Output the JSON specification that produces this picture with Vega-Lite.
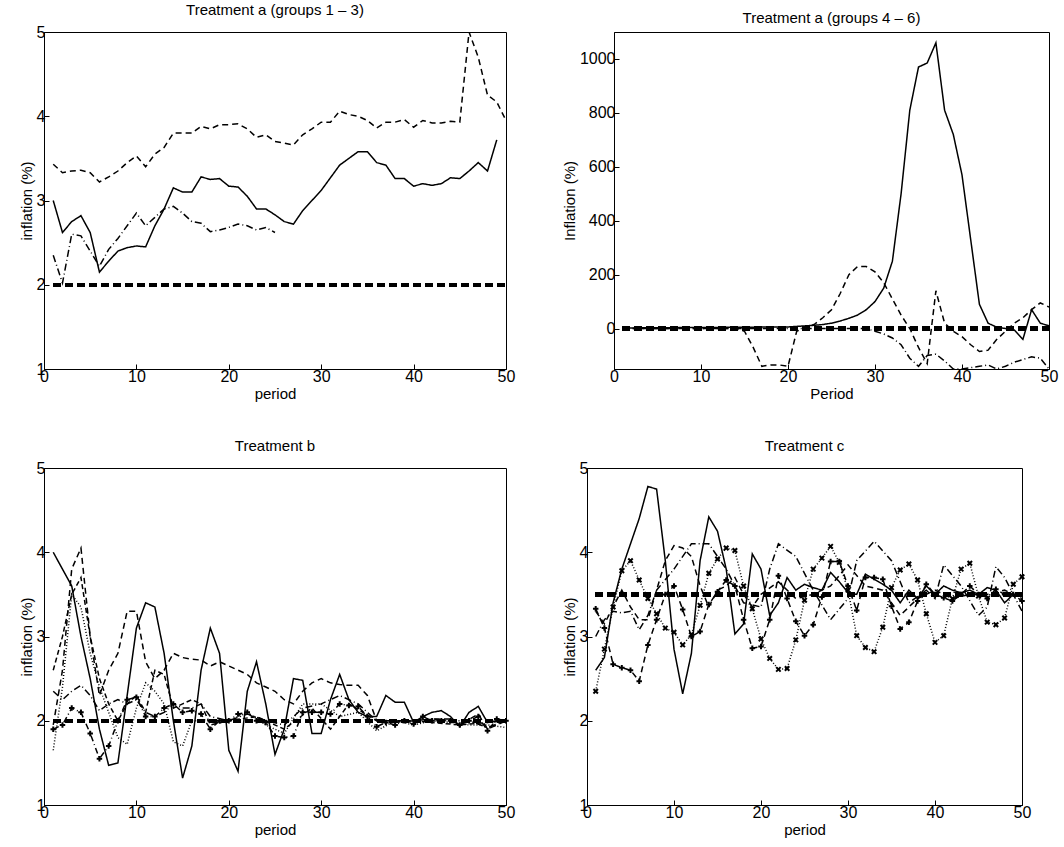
{
  "$schema": "https://vega.github.io/schema/vega-lite/v6.json",
  "config": {
    "font": "Liberation Sans",
    "view": {"stroke": "black", "strokeWidth": 1},
    "axis": {"grid": false, "domainColor": "black", "tickColor": "black", "tickSize": -5, "labelFontSize": 16, "labelColor": "black", "titleFontSize": 15, "titleFontWeight": "normal", "titleColor": "black", "labelPadding": 4, "titlePadding": 2, "format": "d", "labelFlush": false, "labelOverlap": false},
    "title": {"fontSize": 15, "fontWeight": "normal", "offset": 6}
  },
  "spacing": 36,
  "padding": {"left": 18, "top": 2, "right": 10, "bottom": 2},
  "datasets": {
    "a1": [
      {"x":1,"s":"solid","y":3.0},{"x":2,"s":"solid","y":2.62},{"x":3,"s":"solid","y":2.75},{"x":4,"s":"solid","y":2.82},{"x":5,"s":"solid","y":2.62},{"x":6,"s":"solid","y":2.15},{"x":7,"s":"solid","y":2.28},{"x":8,"s":"solid","y":2.4},{"x":9,"s":"solid","y":2.44},{"x":10,"s":"solid","y":2.46},{"x":11,"s":"solid","y":2.45},{"x":12,"s":"solid","y":2.7},{"x":13,"s":"solid","y":2.9},{"x":14,"s":"solid","y":3.15},{"x":15,"s":"solid","y":3.1},{"x":16,"s":"solid","y":3.1},{"x":17,"s":"solid","y":3.28},{"x":18,"s":"solid","y":3.25},{"x":19,"s":"solid","y":3.26},{"x":20,"s":"solid","y":3.17},{"x":21,"s":"solid","y":3.16},{"x":22,"s":"solid","y":3.05},{"x":23,"s":"solid","y":2.9},{"x":24,"s":"solid","y":2.9},{"x":25,"s":"solid","y":2.83},{"x":26,"s":"solid","y":2.75},{"x":27,"s":"solid","y":2.72},{"x":28,"s":"solid","y":2.88},{"x":29,"s":"solid","y":3.0},{"x":30,"s":"solid","y":3.12},{"x":31,"s":"solid","y":3.27},{"x":32,"s":"solid","y":3.42},{"x":33,"s":"solid","y":3.5},{"x":34,"s":"solid","y":3.58},{"x":35,"s":"solid","y":3.58},{"x":36,"s":"solid","y":3.45},{"x":37,"s":"solid","y":3.42},{"x":38,"s":"solid","y":3.26},{"x":39,"s":"solid","y":3.26},{"x":40,"s":"solid","y":3.17},{"x":41,"s":"solid","y":3.2},{"x":42,"s":"solid","y":3.18},{"x":43,"s":"solid","y":3.2},{"x":44,"s":"solid","y":3.27},{"x":45,"s":"solid","y":3.26},{"x":46,"s":"solid","y":3.35},{"x":47,"s":"solid","y":3.45},{"x":48,"s":"solid","y":3.35},{"x":49,"s":"solid","y":3.72},
      {"x":1,"s":"dash","y":3.43},{"x":2,"s":"dash","y":3.33},{"x":3,"s":"dash","y":3.35},{"x":4,"s":"dash","y":3.36},{"x":5,"s":"dash","y":3.33},{"x":6,"s":"dash","y":3.22},{"x":7,"s":"dash","y":3.28},{"x":8,"s":"dash","y":3.35},{"x":9,"s":"dash","y":3.45},{"x":10,"s":"dash","y":3.53},{"x":11,"s":"dash","y":3.4},{"x":12,"s":"dash","y":3.55},{"x":13,"s":"dash","y":3.63},{"x":14,"s":"dash","y":3.8},{"x":15,"s":"dash","y":3.8},{"x":16,"s":"dash","y":3.8},{"x":17,"s":"dash","y":3.88},{"x":18,"s":"dash","y":3.85},{"x":19,"s":"dash","y":3.9},{"x":20,"s":"dash","y":3.9},{"x":21,"s":"dash","y":3.91},{"x":22,"s":"dash","y":3.85},{"x":23,"s":"dash","y":3.75},{"x":24,"s":"dash","y":3.78},{"x":25,"s":"dash","y":3.7},{"x":26,"s":"dash","y":3.68},{"x":27,"s":"dash","y":3.66},{"x":28,"s":"dash","y":3.78},{"x":29,"s":"dash","y":3.85},{"x":30,"s":"dash","y":3.93},{"x":31,"s":"dash","y":3.93},{"x":32,"s":"dash","y":4.06},{"x":33,"s":"dash","y":4.02},{"x":34,"s":"dash","y":4.0},{"x":35,"s":"dash","y":3.95},{"x":36,"s":"dash","y":3.86},{"x":37,"s":"dash","y":3.93},{"x":38,"s":"dash","y":3.93},{"x":39,"s":"dash","y":3.96},{"x":40,"s":"dash","y":3.87},{"x":41,"s":"dash","y":3.95},{"x":42,"s":"dash","y":3.92},{"x":43,"s":"dash","y":3.92},{"x":44,"s":"dash","y":3.94},{"x":45,"s":"dash","y":3.93},{"x":46,"s":"dash","y":5.0},{"x":47,"s":"dash","y":4.7},{"x":48,"s":"dash","y":4.25},{"x":49,"s":"dash","y":4.17},{"x":50,"s":"dash","y":3.95},
      {"x":1,"s":"dashdot","y":2.35},{"x":2,"s":"dashdot","y":2.02},{"x":3,"s":"dashdot","y":2.6},{"x":4,"s":"dashdot","y":2.58},{"x":5,"s":"dashdot","y":2.4},{"x":6,"s":"dashdot","y":2.22},{"x":7,"s":"dashdot","y":2.42},{"x":8,"s":"dashdot","y":2.55},{"x":9,"s":"dashdot","y":2.7},{"x":10,"s":"dashdot","y":2.85},{"x":11,"s":"dashdot","y":2.7},{"x":12,"s":"dashdot","y":2.8},{"x":13,"s":"dashdot","y":2.9},{"x":14,"s":"dashdot","y":2.93},{"x":15,"s":"dashdot","y":2.85},{"x":16,"s":"dashdot","y":2.75},{"x":17,"s":"dashdot","y":2.73},{"x":18,"s":"dashdot","y":2.63},{"x":19,"s":"dashdot","y":2.65},{"x":20,"s":"dashdot","y":2.68},{"x":21,"s":"dashdot","y":2.72},{"x":22,"s":"dashdot","y":2.7},{"x":23,"s":"dashdot","y":2.65},{"x":24,"s":"dashdot","y":2.68},{"x":25,"s":"dashdot","y":2.62}
    ],
    "a2": [
      {"x":1,"s":"solid","y":2},{"x":5,"s":"solid","y":3},{"x":10,"s":"solid","y":4},{"x":15,"s":"solid","y":5},{"x":20,"s":"solid","y":6},{"x":21,"s":"solid","y":8},{"x":22,"s":"solid","y":10},{"x":23,"s":"solid","y":12},{"x":24,"s":"solid","y":15},{"x":25,"s":"solid","y":20},{"x":26,"s":"solid","y":28},{"x":27,"s":"solid","y":38},{"x":28,"s":"solid","y":50},{"x":29,"s":"solid","y":70},{"x":30,"s":"solid","y":100},{"x":31,"s":"solid","y":150},{"x":32,"s":"solid","y":250},{"x":33,"s":"solid","y":500},{"x":34,"s":"solid","y":810},{"x":35,"s":"solid","y":970},{"x":36,"s":"solid","y":985},{"x":37,"s":"solid","y":1060},{"x":38,"s":"solid","y":810},{"x":39,"s":"solid","y":720},{"x":40,"s":"solid","y":570},{"x":41,"s":"solid","y":330},{"x":42,"s":"solid","y":90},{"x":43,"s":"solid","y":20},{"x":44,"s":"solid","y":5},{"x":45,"s":"solid","y":0},{"x":46,"s":"solid","y":-5},{"x":47,"s":"solid","y":-40},{"x":48,"s":"solid","y":70},{"x":49,"s":"solid","y":20},{"x":50,"s":"solid","y":10},
      {"x":1,"s":"dash","y":0},{"x":14,"s":"dash","y":0},{"x":15,"s":"dash","y":-10},{"x":16,"s":"dash","y":-70},{"x":17,"s":"dash","y":-140},{"x":18,"s":"dash","y":-135},{"x":19,"s":"dash","y":-135},{"x":20,"s":"dash","y":-140},{"x":21,"s":"dash","y":-10},{"x":22,"s":"dash","y":5},{"x":23,"s":"dash","y":15},{"x":24,"s":"dash","y":40},{"x":25,"s":"dash","y":70},{"x":26,"s":"dash","y":130},{"x":27,"s":"dash","y":200},{"x":28,"s":"dash","y":230},{"x":29,"s":"dash","y":230},{"x":30,"s":"dash","y":210},{"x":31,"s":"dash","y":170},{"x":32,"s":"dash","y":110},{"x":33,"s":"dash","y":50},{"x":34,"s":"dash","y":0},{"x":35,"s":"dash","y":-70},{"x":36,"s":"dash","y":-130},{"x":37,"s":"dash","y":140},{"x":38,"s":"dash","y":20},{"x":39,"s":"dash","y":-10},{"x":40,"s":"dash","y":-30},{"x":41,"s":"dash","y":-60},{"x":42,"s":"dash","y":-85},{"x":43,"s":"dash","y":-80},{"x":44,"s":"dash","y":-40},{"x":45,"s":"dash","y":-10},{"x":46,"s":"dash","y":20},{"x":47,"s":"dash","y":40},{"x":48,"s":"dash","y":70},{"x":49,"s":"dash","y":95},{"x":50,"s":"dash","y":80},
      {"x":1,"s":"dashdot","y":0},{"x":29,"s":"dashdot","y":0},{"x":30,"s":"dashdot","y":-10},{"x":31,"s":"dashdot","y":-20},{"x":32,"s":"dashdot","y":-35},{"x":33,"s":"dashdot","y":-60},{"x":34,"s":"dashdot","y":-110},{"x":35,"s":"dashdot","y":-140},{"x":36,"s":"dashdot","y":-100},{"x":37,"s":"dashdot","y":-95},{"x":38,"s":"dashdot","y":-120},{"x":39,"s":"dashdot","y":-150},{"x":40,"s":"dashdot","y":-150},{"x":41,"s":"dashdot","y":-145},{"x":42,"s":"dashdot","y":-140},{"x":43,"s":"dashdot","y":-135},{"x":44,"s":"dashdot","y":-150},{"x":45,"s":"dashdot","y":-140},{"x":46,"s":"dashdot","y":-125},{"x":47,"s":"dashdot","y":-115},{"x":48,"s":"dashdot","y":-105},{"x":49,"s":"dashdot","y":-110},{"x":50,"s":"dashdot","y":-150}
    ],
    "b": [
      {"x":1,"s":"solid","y":4.0},{"x":2,"s":"solid","y":3.8},{"x":3,"s":"solid","y":3.6},{"x":4,"s":"solid","y":3.0},{"x":5,"s":"solid","y":2.5},{"x":6,"s":"solid","y":1.9},{"x":7,"s":"solid","y":1.47},{"x":8,"s":"solid","y":1.5},{"x":9,"s":"solid","y":2.3},{"x":10,"s":"solid","y":3.1},{"x":11,"s":"solid","y":3.4},{"x":12,"s":"solid","y":3.35},{"x":13,"s":"solid","y":2.8},{"x":14,"s":"solid","y":2.0},{"x":15,"s":"solid","y":1.32},{"x":16,"s":"solid","y":1.7},{"x":17,"s":"solid","y":2.6},{"x":18,"s":"solid","y":3.1},{"x":19,"s":"solid","y":2.8},{"x":20,"s":"solid","y":1.65},{"x":21,"s":"solid","y":1.4},{"x":22,"s":"solid","y":2.35},{"x":23,"s":"solid","y":2.7},{"x":24,"s":"solid","y":2.2},{"x":25,"s":"solid","y":1.6},{"x":26,"s":"solid","y":1.9},{"x":27,"s":"solid","y":2.5},{"x":28,"s":"solid","y":2.48},{"x":29,"s":"solid","y":1.85},{"x":30,"s":"solid","y":1.85},{"x":31,"s":"solid","y":2.25},{"x":32,"s":"solid","y":2.55},{"x":33,"s":"solid","y":2.25},{"x":34,"s":"solid","y":2.1},{"x":35,"s":"solid","y":2.05},{"x":36,"s":"solid","y":2.05},{"x":37,"s":"solid","y":2.3},{"x":38,"s":"solid","y":2.22},{"x":39,"s":"solid","y":2.22},{"x":40,"s":"solid","y":1.98},{"x":41,"s":"solid","y":2.05},{"x":42,"s":"solid","y":2.1},{"x":43,"s":"solid","y":2.12},{"x":44,"s":"solid","y":2.05},{"x":45,"s":"solid","y":1.93},{"x":46,"s":"solid","y":2.1},{"x":47,"s":"solid","y":2.17},{"x":48,"s":"solid","y":1.98},{"x":49,"s":"solid","y":2.0},{"x":50,"s":"solid","y":1.98},
      {"x":1,"s":"dash","y":1.95},{"x":2,"s":"dash","y":2.6},{"x":3,"s":"dash","y":3.8},{"x":4,"s":"dash","y":4.05},{"x":5,"s":"dash","y":3.0},{"x":6,"s":"dash","y":2.3},{"x":7,"s":"dash","y":2.6},{"x":8,"s":"dash","y":2.8},{"x":9,"s":"dash","y":3.3},{"x":10,"s":"dash","y":3.3},{"x":11,"s":"dash","y":2.7},{"x":12,"s":"dash","y":2.5},{"x":13,"s":"dash","y":2.6},{"x":14,"s":"dash","y":2.8},{"x":15,"s":"dash","y":2.75},{"x":16,"s":"dash","y":2.73},{"x":17,"s":"dash","y":2.72},{"x":18,"s":"dash","y":2.65},{"x":19,"s":"dash","y":2.7},{"x":20,"s":"dash","y":2.65},{"x":21,"s":"dash","y":2.6},{"x":22,"s":"dash","y":2.55},{"x":23,"s":"dash","y":2.45},{"x":24,"s":"dash","y":2.4},{"x":25,"s":"dash","y":2.35},{"x":26,"s":"dash","y":2.25},{"x":27,"s":"dash","y":2.2},{"x":28,"s":"dash","y":2.35},{"x":29,"s":"dash","y":2.45},{"x":30,"s":"dash","y":2.5},{"x":31,"s":"dash","y":2.45},{"x":32,"s":"dash","y":2.43},{"x":33,"s":"dash","y":2.42},{"x":34,"s":"dash","y":2.42},{"x":35,"s":"dash","y":2.3},{"x":36,"s":"dash","y":2.0},{"x":38,"s":"dash","y":2.0},{"x":40,"s":"dash","y":1.98},{"x":42,"s":"dash","y":2.02},{"x":44,"s":"dash","y":2.02},{"x":45,"s":"dash","y":1.95},{"x":47,"s":"dash","y":2.08},{"x":48,"s":"dash","y":1.9},{"x":50,"s":"dash","y":2.0},
      {"x":1,"s":"dash2","y":2.6},{"x":2,"s":"dash2","y":3.0},{"x":3,"s":"dash2","y":3.5},{"x":4,"s":"dash2","y":3.7},{"x":5,"s":"dash2","y":3.0},{"x":6,"s":"dash2","y":2.5},{"x":7,"s":"dash2","y":2.2},{"x":8,"s":"dash2","y":2.0},{"x":9,"s":"dash2","y":2.2},{"x":10,"s":"dash2","y":2.3},{"x":11,"s":"dash2","y":2.1},{"x":12,"s":"dash2","y":2.6},{"x":13,"s":"dash2","y":2.55},{"x":14,"s":"dash2","y":2.15},{"x":15,"s":"dash2","y":2.2},{"x":16,"s":"dash2","y":2.25},{"x":17,"s":"dash2","y":2.2},{"x":18,"s":"dash2","y":1.95},{"x":20,"s":"dash2","y":2.0},{"x":23,"s":"dash2","y":2.05},{"x":26,"s":"dash2","y":1.9},{"x":29,"s":"dash2","y":2.15},{"x":31,"s":"dash2","y":1.9},{"x":33,"s":"dash2","y":2.2},{"x":36,"s":"dash2","y":2.0},{"x":40,"s":"dash2","y":2.0},{"x":45,"s":"dash2","y":1.95},{"x":50,"s":"dash2","y":2.0},
      {"x":1,"s":"dashdot","y":2.35},{"x":2,"s":"dashdot","y":2.25},{"x":3,"s":"dashdot","y":2.35},{"x":4,"s":"dashdot","y":2.42},{"x":5,"s":"dashdot","y":2.3},{"x":6,"s":"dashdot","y":2.12},{"x":7,"s":"dashdot","y":2.2},{"x":8,"s":"dashdot","y":2.25},{"x":9,"s":"dashdot","y":2.2},{"x":10,"s":"dashdot","y":2.25},{"x":11,"s":"dashdot","y":2.1},{"x":12,"s":"dashdot","y":2.05},{"x":13,"s":"dashdot","y":2.1},{"x":14,"s":"dashdot","y":2.2},{"x":15,"s":"dashdot","y":2.15},{"x":16,"s":"dashdot","y":2.15},{"x":17,"s":"dashdot","y":2.2},{"x":18,"s":"dashdot","y":2.05},{"x":20,"s":"dashdot","y":2.0},{"x":22,"s":"dashdot","y":2.08},{"x":24,"s":"dashdot","y":2.0},{"x":26,"s":"dashdot","y":1.95},{"x":28,"s":"dashdot","y":2.15},{"x":30,"s":"dashdot","y":2.2},{"x":32,"s":"dashdot","y":2.3},{"x":34,"s":"dashdot","y":2.2},{"x":36,"s":"dashdot","y":2.0},{"x":38,"s":"dashdot","y":1.98},{"x":40,"s":"dashdot","y":2.0},{"x":42,"s":"dashdot","y":2.02},{"x":44,"s":"dashdot","y":2.0},{"x":46,"s":"dashdot","y":2.0},{"x":48,"s":"dashdot","y":1.92},{"x":50,"s":"dashdot","y":2.0},
      {"x":1,"s":"dot","y":1.65},{"x":2,"s":"dot","y":2.4},{"x":3,"s":"dot","y":3.5},{"x":4,"s":"dot","y":3.35},{"x":5,"s":"dot","y":2.8},{"x":6,"s":"dot","y":2.4},{"x":7,"s":"dot","y":2.1},{"x":8,"s":"dot","y":1.8},{"x":9,"s":"dot","y":1.72},{"x":10,"s":"dot","y":2.15},{"x":11,"s":"dot","y":2.45},{"x":12,"s":"dot","y":2.35},{"x":13,"s":"dot","y":2.2},{"x":14,"s":"dot","y":1.75},{"x":15,"s":"dot","y":1.7},{"x":16,"s":"dot","y":2.0},{"x":18,"s":"dot","y":2.0},{"x":20,"s":"dot","y":2.0},{"x":22,"s":"dot","y":2.1},{"x":24,"s":"dot","y":1.95},{"x":26,"s":"dot","y":1.85},{"x":28,"s":"dot","y":2.2},{"x":30,"s":"dot","y":2.2},{"x":32,"s":"dot","y":2.05},{"x":34,"s":"dot","y":2.1},{"x":36,"s":"dot","y":1.88},{"x":38,"s":"dot","y":2.0},{"x":40,"s":"dot","y":1.95},{"x":42,"s":"dot","y":2.0},{"x":44,"s":"dot","y":1.98},{"x":46,"s":"dot","y":1.95},{"x":48,"s":"dot","y":1.95},{"x":50,"s":"dot","y":1.92},
      {"x":1,"s":"plus","y":1.9},{"x":2,"s":"plus","y":1.95},{"x":3,"s":"plus","y":2.15},{"x":4,"s":"plus","y":2.1},{"x":5,"s":"plus","y":1.85},{"x":6,"s":"plus","y":1.55},{"x":7,"s":"plus","y":1.7},{"x":8,"s":"plus","y":2.0},{"x":9,"s":"plus","y":2.25},{"x":10,"s":"plus","y":2.28},{"x":11,"s":"plus","y":2.05},{"x":12,"s":"plus","y":2.05},{"x":13,"s":"plus","y":2.15},{"x":14,"s":"plus","y":2.2},{"x":15,"s":"plus","y":2.1},{"x":16,"s":"plus","y":2.12},{"x":17,"s":"plus","y":2.08},{"x":18,"s":"plus","y":1.9},{"x":19,"s":"plus","y":2.0},{"x":20,"s":"plus","y":2.0},{"x":21,"s":"plus","y":2.08},{"x":22,"s":"plus","y":2.1},{"x":23,"s":"plus","y":2.0},{"x":24,"s":"plus","y":1.98},{"x":25,"s":"plus","y":1.82},{"x":26,"s":"plus","y":1.8},{"x":27,"s":"plus","y":1.82},{"x":28,"s":"plus","y":2.1},{"x":29,"s":"plus","y":2.1},{"x":30,"s":"plus","y":2.1},{"x":31,"s":"plus","y":2.08},{"x":32,"s":"plus","y":2.2},{"x":33,"s":"plus","y":2.18},{"x":34,"s":"plus","y":2.17},{"x":35,"s":"plus","y":2.05},{"x":36,"s":"plus","y":1.93},{"x":37,"s":"plus","y":1.98},{"x":38,"s":"plus","y":1.95},{"x":39,"s":"plus","y":2.0},{"x":40,"s":"plus","y":1.96},{"x":41,"s":"plus","y":2.05},{"x":42,"s":"plus","y":2.0},{"x":43,"s":"plus","y":2.0},{"x":44,"s":"plus","y":2.0},{"x":45,"s":"plus","y":1.95},{"x":46,"s":"plus","y":2.0},{"x":47,"s":"plus","y":2.05},{"x":48,"s":"plus","y":1.88},{"x":49,"s":"plus","y":2.02},{"x":50,"s":"plus","y":2.0}
    ],
    "c": [
      {"x":1,"s":"solid","y":2.6},{"x":2,"s":"solid","y":2.75},{"x":3,"s":"solid","y":3.4},{"x":4,"s":"solid","y":3.8},{"x":5,"s":"solid","y":4.1},{"x":6,"s":"solid","y":4.4},{"x":7,"s":"solid","y":4.78},{"x":8,"s":"solid","y":4.75},{"x":9,"s":"solid","y":3.9},{"x":10,"s":"solid","y":2.85},{"x":11,"s":"solid","y":2.32},{"x":12,"s":"solid","y":2.8},{"x":13,"s":"solid","y":3.9},{"x":14,"s":"solid","y":4.42},{"x":15,"s":"solid","y":4.25},{"x":16,"s":"solid","y":3.8},{"x":17,"s":"solid","y":3.03},{"x":18,"s":"solid","y":3.15},{"x":19,"s":"solid","y":3.98},{"x":20,"s":"solid","y":3.8},{"x":21,"s":"solid","y":3.25},{"x":22,"s":"solid","y":3.4},{"x":23,"s":"solid","y":3.7},{"x":24,"s":"solid","y":3.55},{"x":25,"s":"solid","y":3.62},{"x":26,"s":"solid","y":3.58},{"x":27,"s":"solid","y":3.55},{"x":28,"s":"solid","y":3.76},{"x":29,"s":"solid","y":3.65},{"x":30,"s":"solid","y":3.52},{"x":31,"s":"solid","y":3.5},{"x":32,"s":"solid","y":3.74},{"x":33,"s":"solid","y":3.68},{"x":34,"s":"solid","y":3.62},{"x":35,"s":"solid","y":3.55},{"x":36,"s":"solid","y":3.4},{"x":37,"s":"solid","y":3.55},{"x":38,"s":"solid","y":3.45},{"x":39,"s":"solid","y":3.6},{"x":40,"s":"solid","y":3.5},{"x":41,"s":"solid","y":3.6},{"x":42,"s":"solid","y":3.55},{"x":43,"s":"solid","y":3.52},{"x":44,"s":"solid","y":3.55},{"x":45,"s":"solid","y":3.5},{"x":46,"s":"solid","y":3.58},{"x":47,"s":"solid","y":3.55},{"x":48,"s":"solid","y":3.4},{"x":49,"s":"solid","y":3.5},{"x":50,"s":"solid","y":3.5},
      {"x":1,"s":"cross","y":2.35},{"x":2,"s":"cross","y":2.85},{"x":3,"s":"cross","y":3.35},{"x":4,"s":"cross","y":3.78},{"x":5,"s":"cross","y":3.9},{"x":6,"s":"cross","y":3.67},{"x":7,"s":"cross","y":3.45},{"x":8,"s":"cross","y":3.27},{"x":9,"s":"cross","y":3.1},{"x":10,"s":"cross","y":3.05},{"x":11,"s":"cross","y":2.9},{"x":12,"s":"cross","y":3.02},{"x":13,"s":"cross","y":3.37},{"x":14,"s":"cross","y":3.75},{"x":15,"s":"cross","y":3.92},{"x":16,"s":"cross","y":4.05},{"x":17,"s":"cross","y":4.02},{"x":18,"s":"cross","y":3.6},{"x":19,"s":"cross","y":3.33},{"x":20,"s":"cross","y":2.97},{"x":21,"s":"cross","y":2.74},{"x":22,"s":"cross","y":2.61},{"x":23,"s":"cross","y":2.62},{"x":24,"s":"cross","y":2.96},{"x":25,"s":"cross","y":3.43},{"x":26,"s":"cross","y":3.8},{"x":27,"s":"cross","y":3.93},{"x":28,"s":"cross","y":4.07},{"x":29,"s":"cross","y":3.88},{"x":30,"s":"cross","y":3.55},{"x":31,"s":"cross","y":3.01},{"x":32,"s":"cross","y":2.87},{"x":33,"s":"cross","y":2.82},{"x":34,"s":"cross","y":3.11},{"x":35,"s":"cross","y":3.58},{"x":36,"s":"cross","y":3.79},{"x":37,"s":"cross","y":3.86},{"x":38,"s":"cross","y":3.67},{"x":39,"s":"cross","y":3.27},{"x":40,"s":"cross","y":2.93},{"x":41,"s":"cross","y":3.01},{"x":42,"s":"cross","y":3.45},{"x":43,"s":"cross","y":3.8},{"x":44,"s":"cross","y":3.87},{"x":45,"s":"cross","y":3.48},{"x":46,"s":"cross","y":3.17},{"x":47,"s":"cross","y":3.14},{"x":48,"s":"cross","y":3.22},{"x":49,"s":"cross","y":3.62},{"x":50,"s":"cross","y":3.71},
      {"x":1,"s":"plusdash","y":3.33},{"x":2,"s":"plusdash","y":3.1},{"x":3,"s":"plusdash","y":2.67},{"x":4,"s":"plusdash","y":2.63},{"x":5,"s":"plusdash","y":2.6},{"x":6,"s":"plusdash","y":2.47},{"x":7,"s":"plusdash","y":2.9},{"x":8,"s":"plusdash","y":3.2},{"x":9,"s":"plusdash","y":3.5},{"x":10,"s":"plusdash","y":3.6},{"x":11,"s":"plusdash","y":3.32},{"x":12,"s":"plusdash","y":3.0},{"x":13,"s":"plusdash","y":3.06},{"x":14,"s":"plusdash","y":3.38},{"x":15,"s":"plusdash","y":3.53},{"x":16,"s":"plusdash","y":3.67},{"x":17,"s":"plusdash","y":3.6},{"x":18,"s":"plusdash","y":3.2},{"x":19,"s":"plusdash","y":2.86},{"x":20,"s":"plusdash","y":2.88},{"x":21,"s":"plusdash","y":3.2},{"x":22,"s":"plusdash","y":3.72},{"x":23,"s":"plusdash","y":3.45},{"x":24,"s":"plusdash","y":3.18},{"x":25,"s":"plusdash","y":3.01},{"x":26,"s":"plusdash","y":3.14},{"x":27,"s":"plusdash","y":3.47},{"x":28,"s":"plusdash","y":3.89},{"x":29,"s":"plusdash","y":3.89},{"x":30,"s":"plusdash","y":3.6},{"x":31,"s":"plusdash","y":3.31},{"x":32,"s":"plusdash","y":3.7},{"x":33,"s":"plusdash","y":3.7},{"x":34,"s":"plusdash","y":3.68},{"x":35,"s":"plusdash","y":3.36},{"x":36,"s":"plusdash","y":3.09},{"x":37,"s":"plusdash","y":3.17},{"x":38,"s":"plusdash","y":3.42},{"x":39,"s":"plusdash","y":3.62},{"x":40,"s":"plusdash","y":3.5},{"x":41,"s":"plusdash","y":3.46},{"x":42,"s":"plusdash","y":3.42},{"x":43,"s":"plusdash","y":3.5},{"x":44,"s":"plusdash","y":3.6},{"x":45,"s":"plusdash","y":3.5},{"x":46,"s":"plusdash","y":3.45},{"x":47,"s":"plusdash","y":3.56},{"x":48,"s":"plusdash","y":3.5},{"x":49,"s":"plusdash","y":3.5},{"x":50,"s":"plusdash","y":3.42},
      {"x":1,"s":"dash","y":3.3},{"x":2,"s":"dash","y":3.15},{"x":3,"s":"dash","y":3.35},{"x":4,"s":"dash","y":3.55},{"x":5,"s":"dash","y":3.35},{"x":6,"s":"dash","y":3.2},{"x":7,"s":"dash","y":3.2},{"x":8,"s":"dash","y":3.55},{"x":9,"s":"dash","y":3.9},{"x":10,"s":"dash","y":4.08},{"x":11,"s":"dash","y":4.05},{"x":12,"s":"dash","y":3.95},{"x":13,"s":"dash","y":3.6},{"x":14,"s":"dash","y":3.35},{"x":15,"s":"dash","y":3.55},{"x":16,"s":"dash","y":3.6},{"x":17,"s":"dash","y":3.7},{"x":18,"s":"dash","y":3.5},{"x":19,"s":"dash","y":3.35},{"x":20,"s":"dash","y":3.5},{"x":22,"s":"dash","y":3.65},{"x":24,"s":"dash","y":3.45},{"x":26,"s":"dash","y":3.5},{"x":28,"s":"dash","y":3.6},{"x":30,"s":"dash","y":3.85},{"x":32,"s":"dash","y":3.6},{"x":34,"s":"dash","y":3.55},{"x":36,"s":"dash","y":3.25},{"x":38,"s":"dash","y":3.45},{"x":40,"s":"dash","y":3.55},{"x":42,"s":"dash","y":3.45},{"x":44,"s":"dash","y":3.5},{"x":46,"s":"dash","y":3.5},{"x":48,"s":"dash","y":3.55},{"x":50,"s":"dash","y":3.45},
      {"x":1,"s":"dashdot","y":3.0},{"x":2,"s":"dashdot","y":3.2},{"x":3,"s":"dashdot","y":3.3},{"x":4,"s":"dashdot","y":3.28},{"x":5,"s":"dashdot","y":3.3},{"x":6,"s":"dashdot","y":3.08},{"x":7,"s":"dashdot","y":3.25},{"x":8,"s":"dashdot","y":3.55},{"x":10,"s":"dashdot","y":3.8},{"x":12,"s":"dashdot","y":4.1},{"x":14,"s":"dashdot","y":4.1},{"x":16,"s":"dashdot","y":3.8},{"x":18,"s":"dashdot","y":3.4},{"x":20,"s":"dashdot","y":3.35},{"x":21,"s":"dashdot","y":3.8},{"x":22,"s":"dashdot","y":4.1},{"x":24,"s":"dashdot","y":3.95},{"x":26,"s":"dashdot","y":3.55},{"x":28,"s":"dashdot","y":3.2},{"x":30,"s":"dashdot","y":3.45},{"x":31,"s":"dashdot","y":3.9},{"x":33,"s":"dashdot","y":4.13},{"x":35,"s":"dashdot","y":3.9},{"x":37,"s":"dashdot","y":3.4},{"x":39,"s":"dashdot","y":3.55},{"x":40,"s":"dashdot","y":3.45},{"x":41,"s":"dashdot","y":3.85},{"x":43,"s":"dashdot","y":3.6},{"x":45,"s":"dashdot","y":3.25},{"x":46,"s":"dashdot","y":3.35},{"x":47,"s":"dashdot","y":3.83},{"x":48,"s":"dashdot","y":3.7},{"x":50,"s":"dashdot","y":3.3}
    ]
  },
  "vconcat": [
    {"spacing": 45, "hconcat": [
      {
        "title": "Treatment a (groups 1 – 3)", "width": 462, "height": 337,
        "data": {"name": "a1"},
        "layer": [
          {"mark": {"type": "line", "color": "black", "strokeWidth": 1.5, "clip": true},
           "encoding": {
             "x": {"field": "x", "type": "quantitative", "scale": {"domain": [0, 50]}, "axis": {"values": [0,10,20,30,40,50]}, "title": "period"},
             "y": {"field": "y", "type": "quantitative", "scale": {"domain": [1, 5]}, "axis": {"values": [1,2,3,4,5]}, "title": "inflation (%)"},
             "detail": {"field": "s"},
             "strokeDash": {"field": "s", "legend": null, "scale": {"domain": ["solid","dash","dash2","dashdot","dot","plus","plusdash","cross"], "range": [[1,0],[6,4],[5,3],[7,3,1,3],[1,2],[6,3,1,3],[6,4],[1,2]]}}
           }},
          {"mark": {"type": "rule", "color": "black", "strokeWidth": 3.5, "strokeDash": [7, 5]},
           "encoding": {"y": {"datum": 2}, "x": {"datum": 1}, "x2": {"datum": 50}}}
        ]
      },
      {
        "title": "Treatment a (groups 4 – 6)", "width": 435, "height": 337,
        "data": {"name": "a2"},
        "layer": [
          {"mark": {"type": "line", "color": "black", "strokeWidth": 1.5, "clip": true},
           "encoding": {
             "x": {"field": "x", "type": "quantitative", "scale": {"domain": [0, 50]}, "axis": {"values": [0,10,20,30,40,50]}, "title": "Period"},
             "y": {"field": "y", "type": "quantitative", "scale": {"domain": [-150, 1100], "nice": false}, "axis": {"values": [0,200,400,600,800,1000]}, "title": "Inflation (%)"},
             "detail": {"field": "s"},
             "strokeDash": {"field": "s", "legend": null, "scale": {"domain": ["solid","dash","dash2","dashdot","dot","plus","plusdash","cross"], "range": [[1,0],[6,4],[5,3],[7,3,1,3],[1,2],[6,3,1,3],[6,4],[1,2]]}}
           }},
          {"mark": {"type": "rule", "color": "black", "strokeWidth": 3.5, "strokeDash": [7, 5]},
           "encoding": {"y": {"datum": 0}, "x": {"datum": 1}, "x2": {"datum": 50}}}
        ]
      }
    ]},
    {"spacing": 45, "hconcat": [
      {
        "title": "Treatment b", "width": 462, "height": 337,
        "data": {"name": "b"},
        "layer": [
          {"mark": {"type": "line", "color": "black", "strokeWidth": 1.5, "clip": true},
           "encoding": {
             "x": {"field": "x", "type": "quantitative", "scale": {"domain": [0, 50]}, "axis": {"values": [0,10,20,30,40,50]}, "title": "period"},
             "y": {"field": "y", "type": "quantitative", "scale": {"domain": [1, 5]}, "axis": {"values": [1,2,3,4,5]}, "title": "inflation (%)"},
             "detail": {"field": "s"},
             "strokeDash": {"field": "s", "legend": null, "scale": {"domain": ["solid","dash","dash2","dashdot","dot","plus","plusdash","cross"], "range": [[1,0],[6,4],[5,3],[7,3,1,3],[1,2],[6,3,1,3],[6,4],[1,2]]}}
           }},
          {"transform": [{"filter": "datum.s == 'plus'"}],
           "mark": {"type": "point", "shape": "M-1,0H1M0,-1V1", "filled": false, "color": "black", "strokeWidth": 2, "size": 30, "opacity": 1},
           "encoding": {"x": {"field": "x", "type": "quantitative"}, "y": {"field": "y", "type": "quantitative"}}},
          {"mark": {"type": "rule", "color": "black", "strokeWidth": 3.5, "strokeDash": [7, 5]},
           "encoding": {"y": {"datum": 2}, "x": {"datum": 1}, "x2": {"datum": 50}}}
        ]
      },
      {
        "title": "Treatment c", "width": 435, "height": 337,
        "data": {"name": "c"},
        "layer": [
          {"mark": {"type": "line", "color": "black", "strokeWidth": 1.5, "clip": true},
           "encoding": {
             "x": {"field": "x", "type": "quantitative", "scale": {"domain": [0, 50]}, "axis": {"values": [0,10,20,30,40,50]}, "title": "period"},
             "y": {"field": "y", "type": "quantitative", "scale": {"domain": [1, 5]}, "axis": {"values": [1,2,3,4,5]}, "title": "inflation (%)"},
             "detail": {"field": "s"},
             "strokeDash": {"field": "s", "legend": null, "scale": {"domain": ["solid","dash","dash2","dashdot","dot","plus","plusdash","cross"], "range": [[1,0],[6,4],[5,3],[7,3,1,3],[1,2],[6,3,1,3],[6,4],[1,2]]}}
           }},
          {"transform": [{"filter": "datum.s == 'plusdash'"}],
           "mark": {"type": "point", "shape": "M-1,0H1M0,-1V1", "filled": false, "color": "black", "strokeWidth": 2, "size": 30, "opacity": 1},
           "encoding": {"x": {"field": "x", "type": "quantitative"}, "y": {"field": "y", "type": "quantitative"}}},
          {"transform": [{"filter": "datum.s == 'cross'"}],
           "mark": {"type": "point", "shape": "M-1,-1L1,1M1,-1L-1,1", "filled": false, "color": "black", "strokeWidth": 2, "size": 20, "opacity": 1},
           "encoding": {"x": {"field": "x", "type": "quantitative"}, "y": {"field": "y", "type": "quantitative"}}},
          {"mark": {"type": "rule", "color": "black", "strokeWidth": 3.5, "strokeDash": [7, 5]},
           "encoding": {"y": {"datum": 3.5}, "x": {"datum": 1}, "x2": {"datum": 50}}}
        ]
      }
    ]}
  ]
}
